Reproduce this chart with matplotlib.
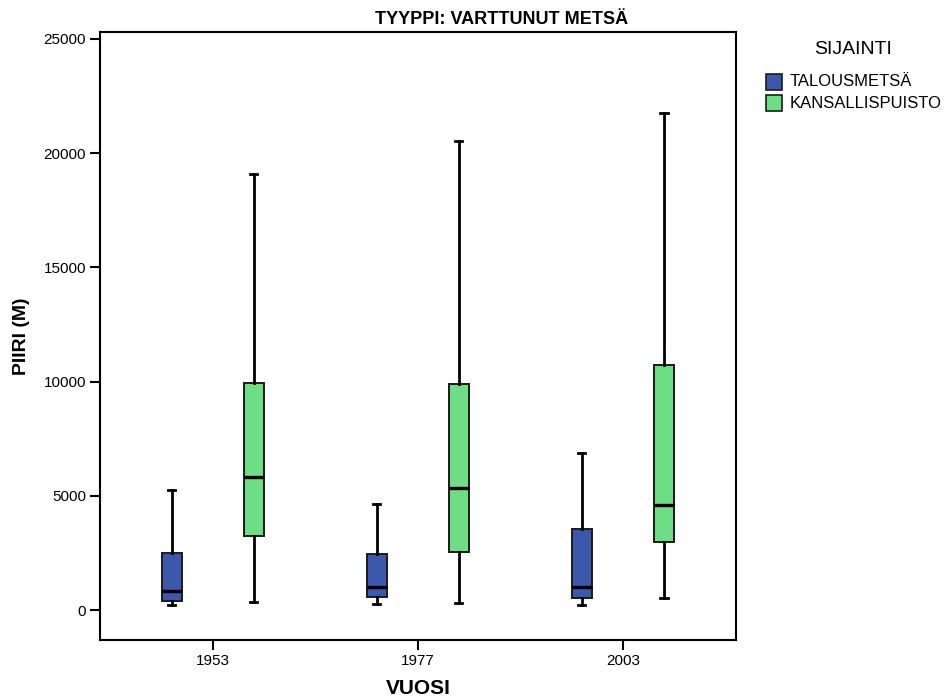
import matplotlib
matplotlib.use("Agg")
import matplotlib.pyplot as plt
from matplotlib.patches import Rectangle

plt.rcParams['font.family'] = ['Liberation Sans', 'DejaVu Sans']

years = ["1953", "1977", "2003"]
groups = ["TALOUSMETSÄ", "KANSALLISPUISTO"]
colors = ["#3D57AA", "#6FDD86"]

# five-number summaries per year: (whisker low, Q1, median, Q3, whisker high)
talousmetsa = [
    (219, 408, 832, 2510, 5254),
    (263, 570, 1020, 2440, 4640),
    (219, 540, 1022, 3560, 6874),
]
kansallispuisto = [
    (365, 3240, 5810, 9950, 19090),
    (292, 2525, 5356, 9895, 20534),
    (525, 2977, 4610, 10713, 21760),
]

W, H = 951, 698
fig = plt.figure(figsize=(W / 100, H / 100), dpi=100)
ax = fig.add_axes([0.1052, 0.0831, 0.6684, 0.8715])

offsets = [-0.2, 0.2]
for series, color, off in zip([talousmetsa, kansallispuisto], colors, offsets):
    stats = []
    for lo, q1, med, q3, hi in series:
        stats.append(dict(whislo=lo, q1=q1, med=med, q3=q3, whishi=hi, fliers=[]))
    positions = [i + off for i in range(len(years))]
    ax.bxp(stats, positions=positions, widths=0.1, patch_artist=True,
           showfliers=False, manage_ticks=False,
           boxprops=dict(facecolor=color, edgecolor="#1a1a1a", linewidth=1.4),
           medianprops=dict(color="black", linewidth=2.4),
           whiskerprops=dict(color="black", linewidth=2.0),
           capprops=dict(color="black", linewidth=2.0),
           capwidths=0.035)

ax.set_xlim(-0.55, 2.55)
ax.set_ylim(-1313, 25320)
ax.set_xticks(range(len(years)))
ax.set_xticklabels(years)
ax.set_yticks([0, 5000, 10000, 15000, 20000, 25000])
ax.tick_params(axis="both", direction="out", length=7, width=1.5, labelsize=11,
               colors="black", pad=3)
for s in ax.spines.values():
    s.set_linewidth(1.5)

ax.set_xlabel("VUOSI", fontsize=15, fontweight="bold", labelpad=8)
ax.set_ylabel("PIIRI (M)", fontsize=14, fontweight="bold", labelpad=10)
fig.text(502 / W, 1 - 20 / H, "TYYPPI: VARTTUNUT METSÄ", ha="center", va="center",
         fontsize=13, fontweight="bold")

# legend drawn in figure pixel space
fig.text(853 / W, 1 - 50 / H, "SIJAINTI", ha="center", va="center", fontsize=14)
for k, (label, color) in enumerate(zip(groups, colors)):
    yc = 82 + 21 * k
    fig.add_artist(Rectangle((766 / W, 1 - (yc + 8) / H), 16 / W, 16 / H,
                             transform=fig.transFigure, facecolor=color,
                             edgecolor="#1a1a1a", linewidth=1.2))
    fig.text(790 / W, 1 - yc / H, label, ha="left", va="center", fontsize=12)

fig.savefig("out.png", dpi=100)
